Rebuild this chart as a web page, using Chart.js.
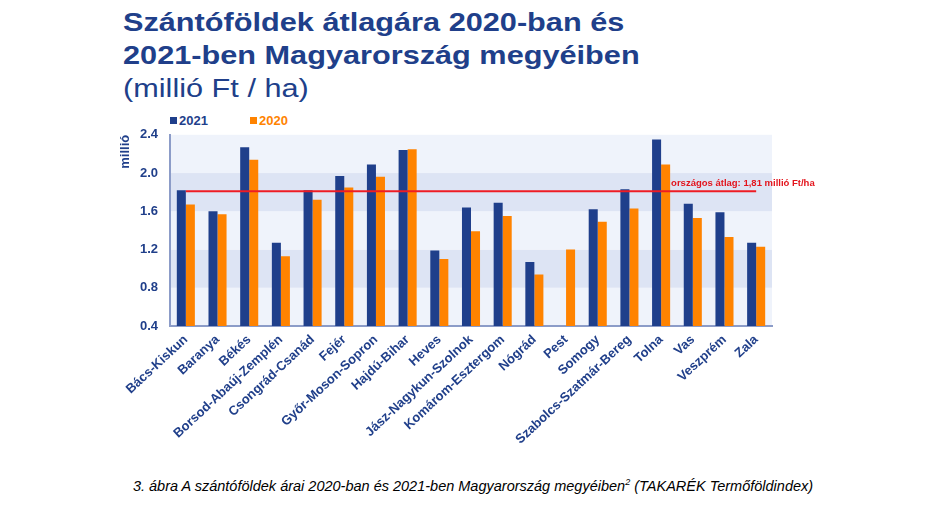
<!DOCTYPE html>
<html lang="hu">
<head>
<meta charset="utf-8">
<script src="https://cdn.jsdelivr.net/npm/chart.js@4.4.1/dist/chart.umd.min.js"></script>
<style>
  body { margin: 0; background: #fff; font-family: "Liberation Sans", Arial, sans-serif; }
  #page { position: relative; width: 946px; height: 506px; overflow: hidden; }
  #title { position: absolute; left: 123px; top: 6px; color: #203f8a; font-size: 26px; line-height: 33px;
           white-space: nowrap; transform: scaleX(1.18); transform-origin: 0 0; }
  #title b { font-weight: bold; }
  #legend { position: absolute; left: 170px; top: 113px; font-size: 13px; font-weight: bold; line-height: 16px; }
  #legend span { position: absolute; white-space: nowrap; }
  #legend i { display: inline-block; width: 7px; height: 7px; margin-right: 2px; vertical-align: 1px; }
  #chartBox { position: absolute; left: 118px; top: 115px; width: 712px; height: 355px; }
  #caption { position: absolute; left: 0; width: 946px; top: 477px; text-align: center; font-style: italic; font-size: 14.5px; color: #000; }
</style>
</head>
<body>
<div id="page">
  <div id="title"><b>Szántóföldek átlagára 2020-ban és<br>2021-ben Magyarország megyéiben</b><br>(millió Ft / ha)</div>
  <div id="legend">
    <span style="left:0;color:#1f3f8b"><i style="background:#1f3f8b"></i>2021</span>
    <span style="left:80px;color:#ff8300"><i style="background:#ff8300"></i>2020</span>
  </div>
  <div id="chartBox"><canvas id="myChart"></canvas></div>
  <div id="caption">3. ábra A szántóföldek árai 2020-ban és 2021-ben Magyarország megyéiben<sup style="font-size:9px">2</sup> (TAKARÉK Termőföldindex)</div>
</div>
<script>
// Megyék és értékek (millió Ft / ha), leolvasva az ábráról
const megyek = ['Bács-Kiskun', 'Baranya', 'Békés', 'Borsod-Abaúj-Zemplén', 'Csongrád-Csanád', 'Fejér',
    'Győr-Moson-Sopron', 'Hajdú-Bihar', 'Heves', 'Jász-Nagykun-Szolnok', 'Komárom-Esztergom', 'Nógrád',
    'Pest', 'Somogy', 'Szabolcs-Szatmár-Bereg', 'Tolna', 'Vas', 'Veszprém', 'Zala'];
const ertek2021 = [1.82, 1.60, 2.27, 1.27, 1.82, 1.97, 2.09, 2.24, 1.19, 1.64, 1.69, 1.07, null, 1.62, 1.83, 2.35, 1.68, 1.59, 1.27];
const ertek2020 = [1.67, 1.57, 2.14, 1.13, 1.72, 1.85, 1.96, 2.25, 1.10, 1.39, 1.55, 0.94, 1.20, 1.49, 1.63, 2.09, 1.53, 1.33, 1.23];
const orszagosAtlag = 1.81;
const atlagVonal = [{ x: 'Bács-Kiskun', y: orszagosAtlag }, { x: 'Zala', y: orszagosAtlag }];
const yTicks = [0.4, 0.8, 1.2, 1.6, 2.0, 2.4];

const KEK = '#1f3f8b';
const NARANCS = '#ff8300';

// Váltakozó háttérsávok a rácsvonalak között
const savok = {
    id: 'savok',
    beforeDraw(chart) {
        const { ctx, chartArea, scales } = chart;
        const y = scales.y;
        ctx.save();
        for (let i = 0; i < yTicks.length - 1; i++) {
            const top = y.getPixelForValue(yTicks[i + 1]);
            const bottom = y.getPixelForValue(yTicks[i]);
            ctx.fillStyle = (i % 2 === 1) ? '#dde4f4' : '#eff3fb';
            ctx.fillRect(chartArea.left, top, chartArea.right - chartArea.left, bottom - top);
        }
        ctx.restore();
    }
};

// Felirat az országos átlag vonala mellé (Tolna oszlopai után)
const atlagFelirat = {
    id: 'atlagFelirat',
    afterDatasetsDraw(chart) {
        const { ctx, scales } = chart;
        const x = scales.x.getPixelForValue(15) + 10;
        const y = scales.y.getPixelForValue(orszagosAtlag) - 8;
        ctx.save();
        ctx.font = 'bold 9.5px "Liberation Sans", Arial, sans-serif';
        ctx.fillStyle = '#e3141c';
        ctx.textBaseline = 'middle';
        ctx.fillText('országos átlag: 1,81 millió Ft/ha', x, y);
        ctx.restore();
    }
};

const ctx = document.getElementById('myChart').getContext('2d');
new Chart(ctx, {
    type: 'bar',
    data: {
        labels: megyek,
        datasets: [
            {
                type: 'line',
                label: 'országos átlag',
                data: atlagVonal,
                borderColor: '#ee1c24',
                borderWidth: 2,
                pointRadius: 0,
                order: 0
            },
            {
                label: '2021',
                data: ertek2021,
                backgroundColor: KEK,
                categoryPercentage: 0.57,
                barPercentage: 1.0,
                order: 1
            },
            {
                label: '2020',
                data: ertek2020,
                backgroundColor: NARANCS,
                categoryPercentage: 0.57,
                barPercentage: 1.0,
                order: 1
            }
        ]
    },
    options: {
        responsive: true,
        maintainAspectRatio: false,
        animation: false,
        layout: { padding: { left: 0, right: 58, top: 5, bottom: 0 } },
        plugins: {
            legend: { display: false },
            tooltip: { enabled: false }
        },
        scales: {
            x: {
                grid: { display: false, drawTicks: false },
                border: { color: '#8c9cc8', width: 2 },
                ticks: {
                    autoSkip: false,
                    minRotation: 43,
                    maxRotation: 43,
                    padding: 6,
                    color: '#203f8a',
                    font: { family: '"Liberation Sans", Arial, sans-serif', size: 13, weight: 'bold' }
                },
                afterFit(scale) {
                    scale.height = 144;
                    scale.paddingLeft = 0;
                    scale.paddingRight = 0;
                }
            },
            y: {
                min: 0.4,
                max: 2.4,
                grid: { display: false, drawTicks: false },
                border: { color: '#8c9cc8', width: 2 },
                ticks: {
                    stepSize: 0.4,
                    padding: 12,
                    color: '#203f8a',
                    font: { family: '"Liberation Sans", Arial, sans-serif', size: 13, weight: 'bold' },
                    callback: (v) => v.toFixed(1)
                },
                title: {
                    display: true,
                    text: 'millió',
                    align: 'end',
                    color: '#203f8a',
                    padding: { top: 0, bottom: 0 },
                    font: { family: '"Liberation Sans", Arial, sans-serif', size: 13, weight: 'bold' }
                },
                afterFit(scale) {
                    scale.width = 52;
                }
            }
        }
    },
    plugins: [savok, atlagFelirat]
});
</script>
</body>
</html>
